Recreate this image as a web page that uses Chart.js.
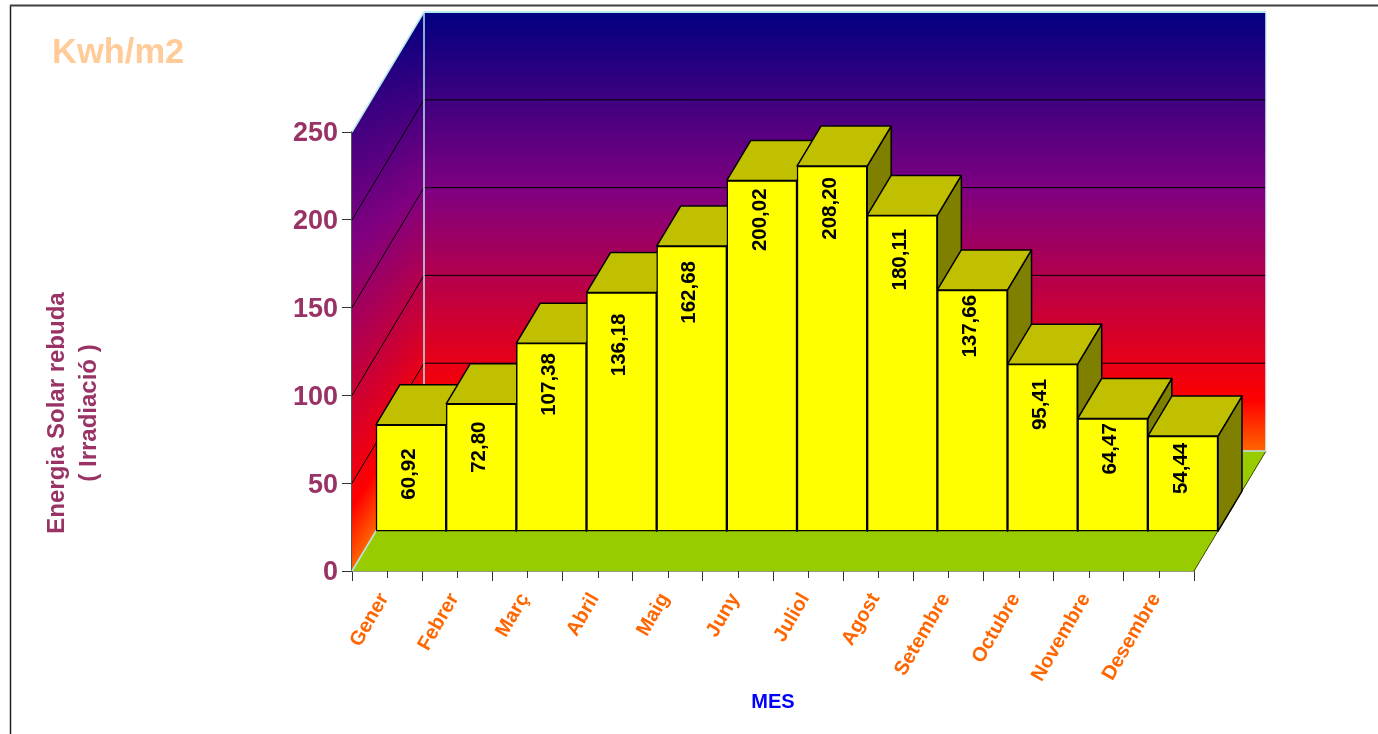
<!DOCTYPE html>
<html>
<head>
<meta charset="utf-8">
<title>Energia Solar rebuda</title>
<script src="https://cdn.jsdelivr.net/npm/chart.js@4"></script>
<style>
  html, body { margin: 0; padding: 0; background: #fff; overflow: hidden; }
  canvas { display: block; }
</style>
</head>
<body>
<canvas id="solarChart" width="1378" height="734"></canvas>
<script>
/* ============= Data: ============= */
var months = ['Gener', 'Febrer', 'Març', 'Abril', 'Maig', 'Juny', 'Juliol', 'Agost', 'Setembre', 'Octubre', 'Novembre', 'Desembre'];
var irradiation = [60.92, 72.80, 107.38, 136.18, 162.68, 200.02, 208.20, 180.11, 137.66, 95.41, 64.47, 54.44];
var yTicks = [0, 50, 100, 150, 200, 250];

/* ============= Look: ============= */
var FONT = '"Liberation Sans", Arial, sans-serif';
var depthX = 24;     // one step into the picture, bars sit one step in
var depthY = -40;    // and are one step deep, back wall is three steps
var wallSteps = 3;
var barNudge = 0.7;  // bars sit a hair lower than the exact step
// how far below the bar top each rotated label sits (centre of the text)
var labelDrop = [50, 44, 42, 53, 47, 40, 43, 45, 37, 41, 31, 33];

function addWallStops(grad) {
	grad.addColorStop(0, '#000080');
	grad.addColorStop(0.41, '#800080');
	grad.addColorStop(0.885, '#FF0000');
	grad.addColorStop(1, '#FF6600');
}

function poly(ctx, pts, fill, stroke, width) {
	ctx.beginPath();
	ctx.moveTo(pts[0][0], pts[0][1]);
	for (var i = 1; i < pts.length; i++) {
		ctx.lineTo(pts[i][0], pts[i][1]);
	}
	ctx.closePath();
	if (fill) {
		ctx.fillStyle = fill;
		ctx.fill();
	}
	if (stroke) {
		ctx.strokeStyle = stroke;
		ctx.lineWidth = width;
		ctx.stroke();
	}
}

function line(ctx, x1, y1, x2, y2, color, width) {
	ctx.beginPath();
	ctx.moveTo(x1, y1);
	ctx.lineTo(x2, y2);
	ctx.strokeStyle = color;
	ctx.lineWidth = width;
	ctx.stroke();
}

function drawWalls(chart) {
	var ctx = chart.ctx;
	var area = chart.chartArea;
	var backX = wallSteps * depthX;
	var backY = wallSteps * depthY;
	var l = area.left, r = area.right, t = area.top, b = area.bottom;
	var grad, i;

	// back wall
	grad = ctx.createLinearGradient(0, t + backY, 0, b + backY);
	addWallStops(grad);
	ctx.fillStyle = grad;
	ctx.fillRect(l + backX, t + backY, r - l, b - t);

	// side wall, the gradient gets stretched towards the front
	ctx.save();
	ctx.beginPath();
	ctx.moveTo(l, t);
	ctx.lineTo(l + backX, t + backY);
	ctx.lineTo(l + backX, b + backY);
	ctx.lineTo(l, b);
	ctx.closePath();
	ctx.clip();
	for (i = 0; i < backX; i++) {
		grad = ctx.createLinearGradient(0, t + backY, 0, b + backY * (i + 0.5) / backX);
		addWallStops(grad);
		ctx.fillStyle = grad;
		ctx.fillRect(l + i, t + backY, 1.5, b - t - backY);
	}
	ctx.restore();

	// floor
	poly(ctx, [[l, b], [l + backX, b + backY], [r + backX, b + backY], [r, b]], '#99CC00');
	line(ctx, r, b, r + backX, b + backY, '#3A4A00', 1);

	// gridlines
	var yScale = chart.scales.y;
	yTicks.forEach(function (v) {
		if (v === 0 || v === yTicks[yTicks.length - 1]) {
			return;
		}
		var y = yScale.getPixelForValue(v);
		line(ctx, l, y, l + backX, y + backY, '#000000', 1);
		line(ctx, l + backX, y + backY, r + backX, y + backY, '#000000', 1);
	});

	// pale edges
	var edge = '#B4E8EC';
	line(ctx, l, t, l + backX, t + backY, edge, 1.5);
	line(ctx, l + backX, t + backY, r + backX, t + backY, edge, 2);
	line(ctx, l + backX, t + backY, l + backX, b + backY, edge, 1.5);
	line(ctx, r + backX, t + backY, r + backX, b + backY, '#D8F4F8', 1.5);
	line(ctx, l, b, l + backX, b + backY, edge, 1.5);
	line(ctx, l + backX, b + backY, r + backX, b + backY, edge, 1.5);
}

function drawBarSides(chart) {
	var ctx = chart.ctx;
	var meta = chart.getDatasetMeta(0);
	meta.data.forEach(function (bar) {
		var half = bar.width / 2;
		var x1 = bar.x - half + depthX;
		var x2 = bar.x + half + depthX;
		var top = bar.y + depthY + barNudge;
		var bottom = bar.base + depthY + barNudge;
		ctx.lineJoin = 'round';
		poly(ctx, [[x2, top], [x2 + depthX, top + depthY], [x2 + depthX, bottom + depthY], [x2, bottom]], '#808000', '#000000', 1.5);
		poly(ctx, [[x1, top], [x1 + depthX, top + depthY], [x2 + depthX, top + depthY], [x2, top]], '#C0C000', '#000000', 1.5);
	});
}

function drawBarLabels(chart) {
	var ctx = chart.ctx;
	var meta = chart.getDatasetMeta(0);
	ctx.save();
	ctx.font = 'bold 20.5px ' + FONT;
	ctx.fillStyle = '#000000';
	ctx.textAlign = 'center';
	ctx.textBaseline = 'middle';
	meta.data.forEach(function (bar, i) {
		ctx.save();
		ctx.translate(bar.x + depthX - 3, bar.y + depthY + labelDrop[i]);
		ctx.rotate(-Math.PI / 2);
		ctx.fillText(irradiation[i].toFixed(2).replace('.', ','), 0, 1);
		ctx.restore();
	});
	ctx.restore();
}

function drawTexts(chart) {
	var ctx = chart.ctx;
	ctx.save();
	ctx.textBaseline = 'middle';
	ctx.textAlign = 'left';
	ctx.font = 'bold 34.5px ' + FONT;
	ctx.fillStyle = '#FFCC99';
	ctx.fillText('Kwh/m2', 52, 53);

	ctx.font = 'bold 24px ' + FONT;
	ctx.fillStyle = '#993366';
	ctx.textAlign = 'center';
	ctx.save();
	ctx.translate(57, 413);
	ctx.rotate(-Math.PI / 2);
	ctx.fillText('Energia Solar rebuda', 0, 0);
	ctx.restore();
	ctx.save();
	ctx.translate(89, 413);
	ctx.rotate(-Math.PI / 2);
	ctx.fillText('( Irradiació )', 0, 0);
	ctx.restore();
	ctx.restore();
}

var solarScene = {
	id: 'solarScene',
	beforeDraw: function (chart) {
		var ctx = chart.ctx;
		// the frame round the page
		line(ctx, 10.5, 5, 10.5, 734, '#222222', 1.5);
		line(ctx, 10, 5.5, 1378, 5.5, '#404040', 2);
		drawTexts(chart);
	},
	beforeDatasetsDraw: function (chart) {
		drawWalls(chart);
		drawBarSides(chart);
	},
	beforeDatasetDraw: function (chart) {
		chart.ctx.save();
		chart.ctx.translate(depthX, depthY + barNudge);
	},
	afterDatasetDraw: function (chart) {
		chart.ctx.restore();
	},
	afterDatasetsDraw: function (chart) {
		drawBarLabels(chart);
		// short ticks under the middle of each month
		var xScale = chart.scales.x;
		var b = chart.chartArea.bottom;
		months.forEach(function (m, i) {
			var x = Math.round(xScale.getPixelForValue(i)) + 0.5;
			line(chart.ctx, x, b, x, b + 7, '#333333', 1);
		});
	}
};

/* ============= Main(): ============= */
var solarChart = new Chart(document.getElementById('solarChart').getContext('2d'), {
	type: 'bar',
	data: {
		labels: months,
		datasets: [{
			data: irradiation,
			backgroundColor: '#FFFF00',
			borderColor: '#000000',
			borderWidth: 1.5,
			borderSkipped: false,
			barPercentage: 1,
			categoryPercentage: 1,
			clip: false
		}]
	},
	options: {
		responsive: false,
		animation: false,
		devicePixelRatio: 1,
		layout: { padding: { left: 0, right: 184, top: 132, bottom: 0 } },
		plugins: { legend: { display: false }, tooltip: { enabled: false } },
		scales: {
			x: {
				afterFit: function (scale) { scale.height = 163; },
				grid: { offset: true, drawOnChartArea: false, tickLength: 10, color: '#333333' },
				border: { color: '#2E3A00', width: 1.5 },
				title: { display: true, text: 'MES', color: '#0000FF', font: { family: FONT, size: 20, weight: 'bold' }, padding: { top: 0, bottom: 20 } },
				ticks: {
					autoSkip: false,
					minRotation: 60,
					maxRotation: 60,
					padding: 8,
					labelOffset: -3,
					color: '#FF6600',
					font: { family: FONT, size: 20, weight: 'bold' }
				}
			},
			y: {
				min: 0,
				max: 250,
				afterFit: function (scale) { scale.width = 352; },
				afterBuildTicks: function (scale) {
					scale.ticks = yTicks.map(function (v) { return { value: v }; });
				},
				grid: { drawOnChartArea: false, tickLength: 10, color: '#333333' },
				border: { color: '#4A5A50', width: 1.5 },
				ticks: {
					padding: 4,
					labelOffset: 2,
					color: '#993366',
					font: { family: FONT, size: 27, weight: 'bold' }
				}
			}
		}
	},
	plugins: [solarScene]
});
</script>
</body>
</html>
